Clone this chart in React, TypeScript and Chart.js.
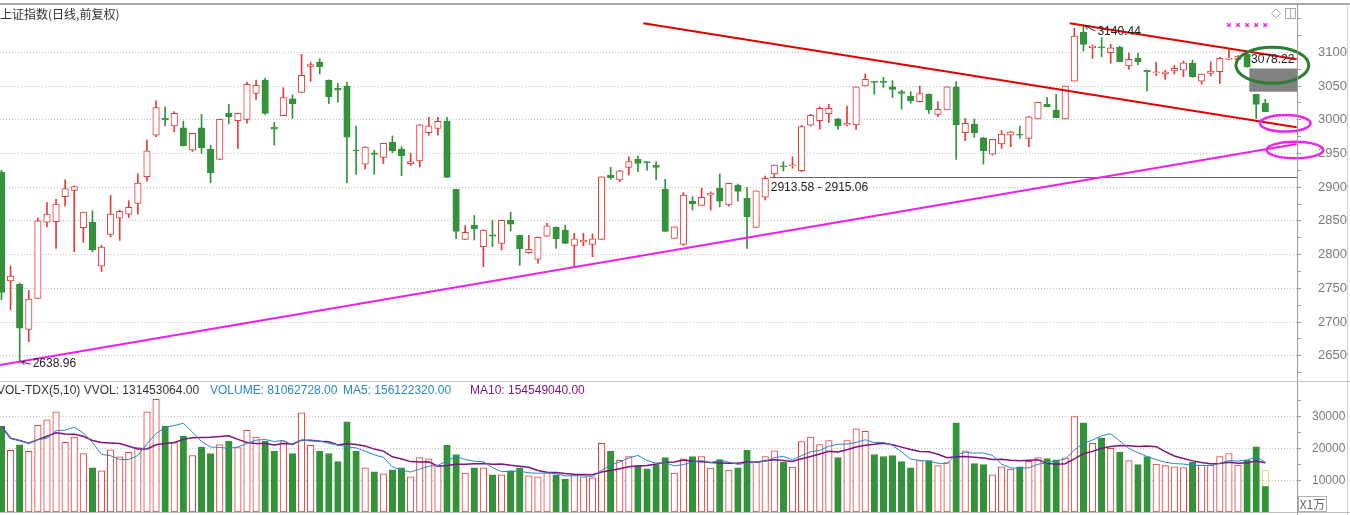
import React, { useEffect, useRef } from 'react';
import { Chart, registerables } from 'chart.js';

Chart.register(...registerables);

// ---------- data (上证指数 日线, 140 sessions) ----------
const OPEN = [2922,2761,2756,2689,2735,2848,2849,2886,2895,2840,
2848,2783,2830,2854,2860,2876,2915.5,2977,3002,2991,
2988,2955,2988,2956.6,2941,3009.5,2998.6,3000.6,3039,3059,
2989,3006,3031,3040.7,3079,3085.6,3059,3046.6,3050,2955,
2934,2951,2944,2966.5,2956.6,2935,2939,2981,2987,2998,
2896.8,2822.6,2843.4,2811.7,2829.5,2816.7,2851,2828.6,2802.8,2793,
2827.5,2840.4,2836.4,2813.7,2818.6,2815.2,2822.6,2918,2910.6,2929.4,
2941.3,2937.3,2932.4,2896.8,2824.1,2815.2,2879.4,2873,2888.3,2898.3,
2873.5,2902.7,2883.5,2840.4,2885,2919.5,2931.8,2931.8,2924.4,2992,
2998.6,3009,3001.5,2992.2,2992.2,3050,3056.4,3057.4,3049,3041.6,
3035,3026.7,3038,3008,3014.4,3049,2980.8,2993.7,2973.3,2949,
2964,2977.3,2978.4,2972.4,3001.1,3022.9,3014.4,3001.1,3057.4,3129.7,
3106.8,3108.3,3099.4,3107.4,3080,3091,3073.3,3069.7,3067.8,3072.3,
3073.7,3083.7,3057.4,3068.9,3071.2,3089.6,3089.6,3097,3037.7,3024.4];

const HIGH = [2925,2783,2758,2747,2854,2877,2882,2911,2902,2863,
2865,2814,2888,2866,2880,2920,2970,3028,3019,3012,
2998,2980,3008,2962,3001,3023,3010,3056,3059,3061.5,
2996,3047.5,3037,3097,3085.6,3090.5,3059,3054,3055.5,2990.7,
2960,2954.6,2965,2976,2960,2950,2993,3003.6,3003.6,3003.6,
2897,2843,2858,2837,2851,2851,2863,2829,2828.6,2826,
2846.4,2841,2843.4,2831.5,2831.5,2830.5,2915.5,2929.4,2925,2945,
2946,2938,2938,2911.6,2841.3,2891.8,2885.8,2898.3,2893,2919.5,
2906,2904.6,2899.8,2894.7,2916.5,2933,2938,2945,2991.7,3008,
3019.3,3023,3002,3020.4,3049,3068,3057,3063,3058,3044,
3041.6,3050,3038,3026.7,3049,3056.4,3002,3001,2974,2971,
2983.7,2983,2990.7,3005,3025.8,3032.7,3037.7,3050,3135.6,3140.44,
3110.8,3121.7,3111.9,3109.3,3099.4,3098.5,3074,3085.2,3073.3,3080.7,
3087.1,3088.6,3068,3086,3092.6,3104.4,3095,3097.5,3038,3030.3];

const LOW = [2733,2718,2638.96,2671,2735,2841,2809,2872,2804,2818,
2804,2775,2826,2821,2855,2860,2909,2975,2991,2982,
2961,2953,2950,2906.6,2941,2994,2957.6,2995,3030,3008,
2962.5,3006,3002,3040,3057,3068,3024,3026,2906.6,2919,
2927,2919,2935,2951,2917,2932,2930,2977,2977,2914.6,
2823.5,2822,2821.6,2782,2811.7,2806.8,2835,2784,2802,2787,
2827,2809.3,2816,2782,2812.7,2796.8,2822.6,2911.6,2908,2918,
2923,2925.4,2911,2834,2824.1,2813.7,2866,2873,2866,2871,
2872,2879.4,2809.3,2840.4,2881,2915.5,2924,2928,2923,2990.7,
2985.8,2995.6,2985.8,2990.7,2985.8,3050,3037.7,3048,3032.7,3015.5,
3024.4,3026,3009.5,3004.5,3014.4,2941.3,2969,2974,2934.3,2947.6,
2957.6,2960,2972.4,2960,3001.1,3019,3003,3001.1,3057.4,3102,
3091,3093.5,3083.7,3086,3074.8,3081.2,3042.6,3065.3,3060,3067.8,
3063.8,3063,3052.5,3064.8,3054,3089.5,3089,3078,3002,3011.9];

const CLOSE = [2744,2768,2691,2734,2850,2860,2875,2898,2901,2863,
2807,2811,2860,2864,2870,2906,2954,3018,3000,3009.5,
2961.5,2980,2958.5,2921,3000.6,3004.5,3009.5,3052.5,3051,3009.5,
2986,3033,3024,3066,3082,3078.6,3034,3044,2974,2953.6,
2959.5,2948.7,2965,2953.6,2946.6,2938,2992.6,2991,2997.7,2914.6,
2834.5,2833,2838.4,2836.4,2827.5,2851,2845,2808.7,2807.8,2825.6,
2842.8,2823.5,2816.7,2823.5,2821.6,2823.5,2915.5,2914,2924.4,2938,
2935.4,2936.3,2929.4,2834.5,2841.3,2888.3,2875,2885,2891,2879.4,
2905.7,2893.8,2856,2894.7,2913,2932.8,2930.3,2933,2989.7,3006.6,
3017,3017,2990.7,2994.7,3049,3060,3055.5,3055.5,3045,3039,
3028,3039,3014.4,3015.5,3049,2992.2,2994.7,2980.8,2954,2971,
2978.8,2982.2,2977,3004.5,3025.8,3019.3,3003,3050,3124.2,3111.9,
3109.3,3106.8,3106.8,3086,3089.6,3086,3070.8,3071.2,3071.2,3076.3,
3084.6,3063.8,3067.8,3072.3,3091,3091.5,3094.5,3078.22,3022.9,3011.9];

// volume in units of 万 (x1万)
const VOLUME = [26970,19380,21090,19060,27290,29010,31470,21940,23550,18410,
13920,12960,19590,17340,18730,20230,31470,35430,26970,21840,
23870,17770,20340,18410,21200,22270,20230,25690,23550,22270,
19060,22160,18410,31150,20980,19060,18410,15850,28360,19060,
13920,12640,11990,13280,13920,11030,17130,16700,14560,20980,
18090,12210,13920,13920,11670,11670,12960,13920,11350,11030,
12310,11670,10390,11670,11030,10710,21620,19060,16270,17450,
14560,13600,14880,17130,12260,16700,17450,17450,13810,16490,
13170,13920,19380,15630,17450,19270,15630,14130,22160,23550,
21200,22480,17130,22480,26120,25370,18090,17450,17770,15850,
13920,16170,16170,14560,15520,28040,19270,15200,14880,11670,
14240,13490,14240,15950,17130,16810,16380,17020,29970,28040,
21620,23340,20020,18730,16170,14880,17450,15100,14560,14240,
14000,15600,14740,14700,17450,18400,14780,16270,20500,8106];

const VOL_ESTIMATE_LAST = 13280;

// axis ticks
const PRICE_LABELS = [2650, 2700, 2750, 2800, 2850, 2900, 2950, 3000, 3050, 3100];
const PRICE_MINOR = [2625, 2675, 2725, 2775, 2825, 2875, 2925, 2975, 3025, 3075, 3125, 3150];
const VOL_LABELS = [10000, 20000, 30000];
const VOL_MINOR = [5000, 15000, 25000, 35000];

// trend lines (index, price)
const RED_LONG = [{ x: 70.6, y: 3143 }, { x: 142.45, y: 2988.8 }];
const RED_SHORT = [{ x: 117.5, y: 3143 }, { x: 142.45, y: 3089.6 }];
const MAGENTA_LINE = [{ x: -0.165, y: 2636.2 }, { x: 142.45, y: 2964 }];
const RANGE_LOW = 2913.58;
const RANGE_HIGH = 2915.06;
const RANGE_FROM_INDEX = 84.5;
const GAP = { from: 137.25, top: 3076, bottom: 3041.6 };
const MARK_INDICES = [135, 136, 137, 138, 139];
const MARK_LEVEL = 3140.5;
const ELLIPSES = [
  { x: 139.78, y: 3080.7, rx: 4.01, ry: 26.7, color: '#2f7d32', width: 3 },
  { x: 141.2, y: 2994.7, rx: 2.78, ry: 12.3, color: '#ee22ee', width: 2.5 },
  { x: 142.26, y: 2955.1, rx: 3.11, ry: 12.3, color: '#ee22ee', width: 2.5 },
];

// ---------- view / style ----------
const X_MIN = -0.165;
const X_MAX = 142.49;
const PRICE_MIN = 2614;
const PRICE_MAX = 3170.2;
const VOL_MAX = 36480;
const AXIS_W = 53;

const RED = '#e23c3c';
const GREEN = '#33923a';
const FONT = '"Liberation Sans", Arial, sans-serif';

const IDX = OPEN.map((_, i) => i);
const isUp = (i: number) => CLOSE[i] >= OPEN[i];

function movingAverage(values: number[], n: number): number[] {
  return values.map((_, i) => {
    const s = Math.max(0, i - n + 1);
    const w = values.slice(s, i + 1);
    return w.reduce((a, b) => a + b, 0) / w.length;
  });
}
const MA5 = movingAverage(VOLUME, 5);
const MA10 = movingAverage(VOLUME, 10);

function drawArrow(ctx: CanvasRenderingContext2D, fx: number, fy: number, tx: number, ty: number) {
  ctx.beginPath();
  ctx.moveTo(fx, fy);
  ctx.lineTo(tx, ty);
  ctx.stroke();
  const a = Math.atan2(ty - fy, tx - fx);
  const h = 4;
  ctx.beginPath();
  ctx.moveTo(tx - h * Math.cos(a - 0.6), ty - h * Math.sin(a - 0.6));
  ctx.lineTo(tx, ty);
  ctx.lineTo(tx - h * Math.cos(a + 0.6), ty - h * Math.sin(a + 0.6));
  ctx.stroke();
}

const priceDecor = {
  id: 'priceDecor',
  beforeDatasetsDraw(chart: any) {
    const { ctx, chartArea } = chart;
    const xs = chart.scales.x;
    const ys = chart.scales.y;
    ctx.save();
    ctx.fillStyle = '#828282';
    const x0 = xs.getPixelForValue(GAP.from);
    const y0 = ys.getPixelForValue(GAP.top);
    const y1 = ys.getPixelForValue(GAP.bottom);
    ctx.fillRect(x0, y0, chartArea.right - x0, y1 - y0);
    ctx.restore();
  },
  afterDatasetsDraw(chart: any) {
    const { ctx } = chart;
    const xs = chart.scales.x;
    const ys = chart.scales.y;
    ctx.save();
    ctx.font = `12px ${FONT}`;
    ctx.fillStyle = '#222';
    ctx.strokeStyle = '#333';
    ctx.lineWidth = 1;
    ctx.textBaseline = 'middle';
    ctx.textAlign = 'left';

    const lx = xs.getPixelForValue(2);
    const ly = ys.getPixelForValue(LOW[2]);
    drawArrow(ctx, lx + 11, ly + 1, lx + 2, ly - 1);
    ctx.fillText(LOW[2].toFixed(2), lx + 13, ly + 1);

    const hx = xs.getPixelForValue(119);
    const hy = ys.getPixelForValue(HIGH[119]);
    drawArrow(ctx, hx + 12, hy + 6, hx + 2, hy + 1);
    ctx.fillText(HIGH[119].toFixed(2), hx + 14, hy + 7);

    const rx = xs.getPixelForValue(RANGE_FROM_INDEX);
    const ry = ys.getPixelForValue((RANGE_LOW + RANGE_HIGH) / 2);
    ctx.fillText(`${RANGE_LOW.toFixed(2)} - ${RANGE_HIGH.toFixed(2)}`, rx + 1, ry + 10);

    const cx = xs.getPixelForValue(137);
    const cy = ys.getPixelForValue(CLOSE[137]);
    ctx.fillText(CLOSE[137].toFixed(2), cx + 4, cy - 7);

    ELLIPSES.forEach((e) => {
      const px = xs.getPixelForValue(e.x);
      const py = ys.getPixelForValue(e.y);
      const prx = Math.abs(xs.getPixelForValue(e.x + e.rx) - px);
      const pry = Math.abs(ys.getPixelForValue(e.y + e.ry) - py);
      ctx.beginPath();
      ctx.ellipse(px, py, prx, pry, 0, 0, Math.PI * 2);
      ctx.strokeStyle = e.color;
      ctx.lineWidth = e.width;
      ctx.stroke();
    });
    ctx.restore();
  },
  afterDraw(chart: any) {
    const { ctx, chartArea } = chart;
    ctx.save();
    ctx.fillStyle = '#a9a9a9';
    ctx.fillRect(0, 3, 1350, 2);
    ctx.fillStyle = '#9a9a9a';
    ctx.fillRect(Math.round(chartArea.right), 4, 1, chart.height - 4);
    ctx.fillStyle = '#d2d2d2';
    ctx.fillRect(1347, 4, 1, chart.height - 4);
    ctx.fillStyle = '#c8c8c8';
    ctx.fillRect(0, chart.height - 2, 1350, 1);
    ctx.strokeStyle = '#aaaaaa';
    ctx.lineWidth = 1;
    ctx.beginPath();
    ctx.moveTo(1276, 9);
    ctx.lineTo(1280.5, 13.5);
    ctx.lineTo(1276, 18);
    ctx.lineTo(1271.5, 13.5);
    ctx.closePath();
    ctx.stroke();
    ctx.strokeRect(1285.5, 8.5, 10, 10);
    ctx.beginPath();
    ctx.moveTo(1290.5, 8.5);
    ctx.lineTo(1290.5, 18.5);
    ctx.stroke();
    ctx.restore();
  },
};

const volDecor = {
  id: 'volDecor',
  afterDatasetsDraw(chart: any) {
    const { ctx } = chart;
    const xs = chart.scales.x;
    const ys = chart.scales.y;
    const last = VOLUME.length - 1;
    const px = xs.getPixelForValue(last);
    const y0 = ys.getPixelForValue(VOL_ESTIMATE_LAST);
    const y1 = ys.getPixelForValue(VOLUME[last]);
    ctx.save();
    ctx.strokeStyle = '#c8b400';
    ctx.setLineDash([1, 1]);
    ctx.lineWidth = 1;
    ctx.strokeRect(Math.round(px - 3) + 0.5, Math.round(y0) + 0.5, 6, Math.round(y1 - y0));
    ctx.restore();
  },
  afterDraw(chart: any) {
    const { ctx, chartArea } = chart;
    ctx.save();
    ctx.fillStyle = '#9a9a9a';
    ctx.fillRect(Math.round(chartArea.right), 0, 1, chart.height);
    ctx.fillStyle = '#d2d2d2';
    ctx.fillRect(1347, 0, 1, chart.height);
    ctx.fillStyle = '#bdbdbd';
    ctx.fillRect(0, Math.round(chartArea.bottom), 1350, 1);
    ctx.restore();
  },
};

const tickObjs = (a: number[], b: number[]) => [...a, ...b].sort((p, q) => p - q).map((value) => ({ value }));

function xScaleOptions() {
  return {
    type: 'linear',
    display: false,
    min: X_MIN,
    max: X_MAX,
    offset: false,
    grid: { offset: false },
    ticks: { display: false },
    afterFit: (s: any) => { s.paddingLeft = 0; s.paddingRight = 0; s.paddingTop = 0; s.paddingBottom = 0; },
  };
}

export default function App() {
  const priceRef = useRef<HTMLCanvasElement>(null);
  const volRef = useRef<HTMLCanvasElement>(null);

  useEffect(() => {
    const price = new Chart(priceRef.current as HTMLCanvasElement, {
      type: 'bar',
      data: {
        datasets: [
          {
            type: 'line',
            data: MARK_INDICES.map((i) => ({ x: i, y: MARK_LEVEL })),
            showLine: false,
            pointStyle: 'crossRot',
            pointRadius: 2.5,
            pointBorderColor: '#e030e0',
            pointBorderWidth: 1.5,
            borderColor: '#e030e0',
            order: 0,
          } as any,
          { type: 'line', data: RED_LONG, borderColor: '#e00000', borderWidth: 2, pointRadius: 0, order: 0 } as any,
          { type: 'line', data: RED_SHORT, borderColor: '#e00000', borderWidth: 2, pointRadius: 0, order: 0 } as any,
          { type: 'line', data: MAGENTA_LINE, borderColor: '#ee1eee', borderWidth: 2, pointRadius: 0, order: 0 } as any,
          {
            type: 'line',
            data: [
              { x: RANGE_FROM_INDEX, y: (RANGE_LOW + RANGE_HIGH) / 2 },
              { x: X_MAX, y: (RANGE_LOW + RANGE_HIGH) / 2 },
            ],
            borderColor: '#666666',
            borderWidth: 1,
            pointRadius: 0,
            order: 0,
          } as any,
          {
            type: 'bar',
            data: IDX.map((i) => ({ x: i, y: [OPEN[i], CLOSE[i]] })),
            backgroundColor: IDX.map((i) => (isUp(i) ? '#ffffff' : GREEN)),
            borderColor: IDX.map((i) => (isUp(i) ? RED : GREEN)),
            borderWidth: 1,
            borderSkipped: false,
            barThickness: 6.5,
            minBarLength: 1,
            grouped: false,
            order: 1,
          } as any,
          {
            type: 'bar',
            data: IDX.map((i) => ({ x: i, y: [LOW[i], HIGH[i]] })),
            backgroundColor: IDX.map((i) => (isUp(i) ? RED : GREEN)),
            borderWidth: 0,
            barThickness: 1,
            grouped: false,
            order: 2,
          } as any,
        ],
      },
      options: {
        animation: false,
        responsive: false,
        events: [],
        layout: { autoPadding: false, padding: { top: 5, bottom: 3, left: 0, right: 0 } },
        plugins: { legend: { display: false }, tooltip: { enabled: false }, title: { display: false } },
        scales: {
          x: xScaleOptions() as any,
          y: {
            type: 'linear',
            position: 'right',
            min: PRICE_MIN,
            max: PRICE_MAX,
            beginAtZero: false,
            afterBuildTicks: (s: any) => { s.ticks = tickObjs(PRICE_LABELS, PRICE_MINOR); },
            afterFit: (s: any) => { s.width = AXIS_W; s.paddingTop = 0; s.paddingBottom = 0; },
            ticks: {
              autoSkip: false,
              padding: 17,
              color: '#7a7a7a',
              font: { family: FONT, size: 13 },
              callback: (v: any) => (PRICE_LABELS.includes(v) ? String(v) : ''),
            },
            grid: {
              color: (c: any) => (c.tick && PRICE_LABELS.includes(c.tick.value) ? '#c2c2c2' : 'rgba(0,0,0,0)'),
              tickColor: '#a0a0a0',
              tickLength: 4,
              lineWidth: 1,
            },
            border: { display: false, dash: [1, 2] },
          } as any,
        },
      },
      plugins: [priceDecor],
    } as any);

    const vol = new Chart(volRef.current as HTMLCanvasElement, {
      type: 'bar',
      data: {
        datasets: [
          {
            type: 'line',
            data: IDX.map((i) => ({ x: i, y: MA5[i] })),
            borderColor: '#2a86c4',
            borderWidth: 1,
            pointRadius: 0,
            order: 0,
          } as any,
          {
            type: 'line',
            data: IDX.map((i) => ({ x: i, y: MA10[i] })),
            borderColor: '#7f137f',
            borderWidth: 1.5,
            pointRadius: 0,
            order: 0,
          } as any,
          {
            type: 'bar',
            data: IDX.map((i) => ({ x: i, y: VOLUME[i] })),
            backgroundColor: IDX.map((i) => (isUp(i) ? '#ffffff' : GREEN)),
            borderColor: IDX.map((i) => (isUp(i) ? RED : GREEN)),
            borderWidth: 1,
            borderSkipped: false,
            barThickness: 6.5,
            grouped: false,
            order: 1,
          } as any,
        ],
      },
      options: {
        animation: false,
        responsive: false,
        events: [],
        layout: { autoPadding: false, padding: { top: 13, bottom: 3, left: 0, right: 0 } },
        plugins: { legend: { display: false }, tooltip: { enabled: false }, title: { display: false } },
        scales: {
          x: xScaleOptions() as any,
          y: {
            type: 'linear',
            position: 'right',
            min: 0,
            max: VOL_MAX,
            afterBuildTicks: (s: any) => { s.ticks = tickObjs(VOL_LABELS, VOL_MINOR); },
            afterFit: (s: any) => { s.width = AXIS_W; s.paddingTop = 0; s.paddingBottom = 0; },
            ticks: {
              autoSkip: false,
              padding: 11,
              color: '#7a7a7a',
              font: { family: FONT, size: 12 },
              callback: (v: any) => (VOL_LABELS.includes(v) ? String(v) : ''),
            },
            grid: {
              color: (c: any) => (c.tick && VOL_LABELS.includes(c.tick.value) ? '#c2c2c2' : 'rgba(0,0,0,0)'),
              tickColor: '#a0a0a0',
              tickLength: 4,
              lineWidth: 1,
            },
            border: { display: false, dash: [1, 2] },
          } as any,
        },
      },
      plugins: [volDecor],
    } as any);

    return () => {
      price.destroy();
      vol.destroy();
    };
  }, []);

  const textBase: React.CSSProperties = {
    position: 'absolute',
    whiteSpace: 'pre',
    font: `12px ${FONT}`,
    lineHeight: '14px',
  };

  return (
    <div style={{ position: 'fixed', left: 0, top: 0, width: 1350, height: 515, background: '#ffffff', overflow: 'hidden' }}>
      <canvas ref={priceRef} width={1350} height={383} style={{ position: 'absolute', left: 0, top: 0, width: 1350, height: 383 }} />
      <canvas ref={volRef} width={1350} height={132} style={{ position: 'absolute', left: 0, top: 383, width: 1350, height: 132 }} />
      <div style={{ ...textBase, left: 0, top: 7, font: '12px "Noto Sans CJK SC", sans-serif', color: '#333' }}>上证指数(日线,前复权)</div>
      <div style={{ ...textBase, left: -3, top: 383, color: '#333' }}>VOL-TDX(5,10) VVOL: 131453064.00</div>
      <div style={{ ...textBase, left: 210, top: 383, color: '#2a86c4' }}>VOLUME: 81062728.00</div>
      <div style={{ ...textBase, left: 343, top: 383, color: '#2a86c4' }}>MA5: 156122320.00</div>
      <div style={{ ...textBase, left: 470, top: 383, color: '#7f137f' }}>MA10: 154549040.00</div>
      <div style={{ ...textBase, left: 1298, top: 496, width: 27, height: 14, border: '1px solid #b0b0b0', color: '#666', font: '12px "Noto Sans CJK SC", sans-serif', lineHeight: '14px', textAlign: 'center' }}>X1万</div>
    </div>
  );
}
